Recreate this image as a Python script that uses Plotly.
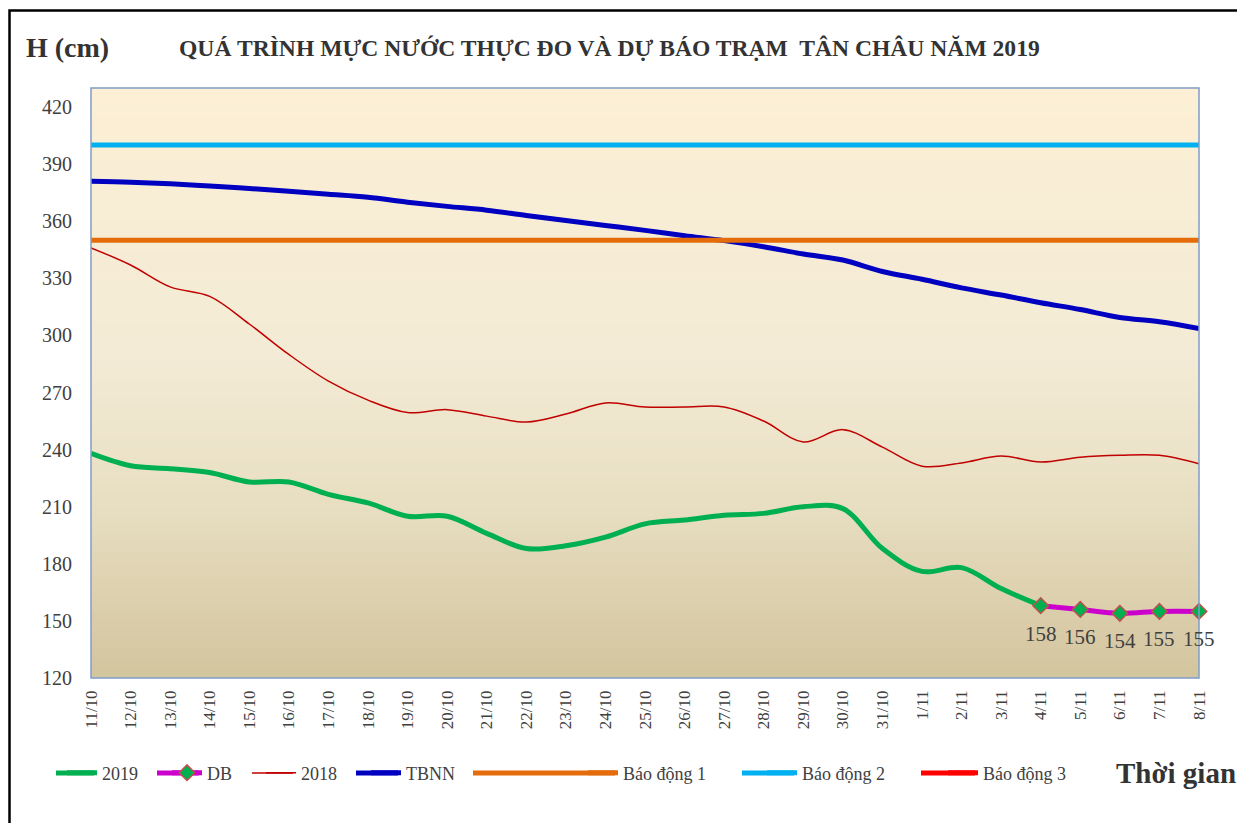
import plotly.graph_objects as go

# ---------------- data ----------------
categories = [f"{d}/10" for d in range(11, 32)] + [f"{d}/11" for d in range(1, 9)]

h2019 = [238, 231.5, 230, 228, 223, 223, 216.5, 212, 205, 205, 196, 188, 189.5,
         194, 201, 203, 205.5, 206.5, 210, 209, 188, 176, 178, 167, 158]
db_categories = ["4/11", "5/11", "6/11", "7/11", "8/11"]
db_values = [158, 156, 154, 155, 155]
h2018 = [346, 337, 325.5, 320.5, 306, 290, 276, 266, 259.5, 261, 257.6, 254.5, 258.7,
         264.5, 262.4, 262.4, 262.4, 255, 244, 250.5, 241.3, 231.3, 233, 236.6, 233.5,
         236, 237, 237, 232.5]
tbnn = [381, 380.5, 379.7, 378.5, 377.2, 375.7, 374.2, 372.6, 370, 367.8, 365.8, 363,
        360.4, 357.8, 355.2, 352.4, 349.8, 346.6, 342.8, 339.6, 333.6, 329.5, 325,
        321.2, 317.2, 313.6, 309.4, 307.2, 303.6]
bao_dong_1 = 350
bao_dong_2 = 400
bao_dong_3 = 450

y_ticks = [120, 150, 180, 210, 240, 270, 300, 330, 360, 390, 420]

# ---------------- layout helpers (page pixel -> paper) ----------------
FONT = "Liberation Serif, Times New Roman, serif"
TXT = "#404040"
OFF = 8                      # body margin of the page
W, H = 1245 - OFF, 823 - OFF
PL, PR, PT, PB = 91, 1199, 88, 678   # plot area in page pixels
L, R, T, B = PL - OFF, W - (PR - OFF), PT - OFF, H - (PB - OFF)
pw, ph = W - L - R, H - T - B


def px_x(px):
    return (px - OFF - L) / pw


def px_y(py):
    return (H - B - (py - OFF)) / ph


fig = go.Figure()

traces = [
    dict(x=categories[:len(h2019)], y=h2019, name="2019", mode="lines",
         line=dict(color="#00B050", width=5, shape="spline", smoothing=1)),
    dict(x=db_categories, y=db_values, name="DB", mode="lines+markers",
         line=dict(color="#CC00CC", width=5, shape="spline", smoothing=1),
         marker=dict(symbol="diamond", size=12, color="#00B050",
                     line=dict(color="#C0504D", width=1.5)),
         cliponaxis=False),
    dict(x=categories, y=h2018, name="2018", mode="lines",
         line=dict(color="#C00000", width=1.5, shape="spline", smoothing=1)),
    dict(x=categories, y=tbnn, name="TBNN", mode="lines",
         line=dict(color="#0000C0", width=5, shape="spline", smoothing=1)),
    dict(x=categories, y=[bao_dong_1] * len(categories), name="Báo động 1", mode="lines",
         line=dict(color="#E46C0A", width=5)),
    dict(x=categories, y=[bao_dong_2] * len(categories), name="Báo động 2", mode="lines",
         line=dict(color="#00B0F0", width=5)),
    dict(x=categories, y=[bao_dong_3] * len(categories), name="Báo động 3", mode="lines",
         line=dict(color="#FF0000", width=5)),
]
# legend key start / text start positions in page pixels
legend_key_x = [56, 157, 252, 356, 473, 742, 921]
legend_text_x = [102, 207, 301, 406, 623, 802, 983]
LEG_Y = 773

shapes = []
legend_layouts = {}
for i, (tr, kx, tx) in enumerate(zip(traces, legend_key_x, legend_text_x)):
    key = "legend" if i == 0 else f"legend{i + 1}"
    fig.add_trace(go.Scatter(**tr, legend=key))
    legend_layouts[key] = dict(orientation="h", x=px_x(tx - 40), y=px_y(LEG_Y),
                               xanchor="left", yanchor="middle",
                               font=dict(family=FONT, size=18, color=TXT),
                               bgcolor="rgba(0,0,0,0)", borderwidth=0)
    # lengthen the legend key to match the original key length
    shapes.append(dict(type="line", xref="paper", yref="paper",
                       x0=px_x(kx), x1=px_x(tx - 8), y0=px_y(LEG_Y), y1=px_y(LEG_Y),
                       line=dict(color=tr["line"]["color"], width=tr["line"]["width"])))

# data labels of the forecast
annotations = []
for c, v in zip(db_categories, db_values):
    annotations.append(dict(x=c, y=v, xref="x", yref="y", text=str(v), showarrow=False,
                            yshift=-28, font=dict(family=FONT, size=21, color=TXT)))

annotations += [
    dict(x=px_x(24), y=px_y(48), xref="paper", yref="paper", xanchor="left", yanchor="middle",
         text="<b>H (cm)</b>", showarrow=False, font=dict(family=FONT, size=28, color="#333333")),
    dict(x=px_x(177), y=px_y(48), xref="paper", yref="paper", xanchor="left", yanchor="middle",
         text="<b>QUÁ TRÌNH MỰC NƯỚC THỰC ĐO VÀ DỰ BÁO TRẠM  TÂN CHÂU NĂM 2019</b>",
         showarrow=False, font=dict(family=FONT, size=23.6, color="#333333")),
    dict(x=px_x(1114), y=px_y(LEG_Y), xref="paper", yref="paper", xanchor="left", yanchor="middle",
         text="<b>Thời gian</b>", showarrow=False, font=dict(family=FONT, size=29, color="#333333")),
]

# gradient background (style only)
stops = [(0.0, (252, 239, 213)), (0.45, (243, 235, 213)), (0.7, (232, 223, 195)), (1.0, (211, 196, 157))]
N = 80
for i in range(N):
    t = (i + 0.5) / N  # 0 top -> 1 bottom
    for (a, ca), (b, cb) in zip(stops[:-1], stops[1:]):
        if a <= t <= b:
            f = (t - a) / (b - a)
            c = tuple(int(round(ca[k] + (cb[k] - ca[k]) * f)) for k in range(3))
            break
    shapes.append(dict(type="rect", xref="paper", yref="paper", x0=0, x1=1,
                       y0=1 - (i + 1) / N, y1=1 - i / N + 0.001, layer="below",
                       fillcolor=f"rgb{c}", line=dict(width=0)))
# plot area border
shapes.append(dict(type="rect", xref="paper", yref="paper", x0=0, x1=1, y0=0, y1=1,
                   line=dict(color="#7F9DC9", width=1.5), layer="above"))
# outer frame
shapes.append(dict(type="rect", xref="paper", yref="paper", x0=px_x(9.5), x1=px_x(1270),
                   y0=px_y(850), y1=px_y(10.5), line=dict(color="black", width=2.5)))

fig.update_layout(
    width=W, height=H,
    margin=dict(l=L, r=R, t=T, b=B),
    paper_bgcolor="white",
    plot_bgcolor="rgb(252,239,213)",
    font=dict(family=FONT, color=TXT),
    showlegend=True,
    xaxis=dict(type="category", categoryorder="array", categoryarray=categories,
               range=[0, len(categories) - 1], tickangle=-90, showgrid=False,
               zeroline=False, showline=False, ticks="", ticklabelstandoff=8,
               tickfont=dict(family=FONT, size=17, color=TXT)),
    yaxis=dict(range=[120, 430], tickvals=y_ticks, showgrid=False, zeroline=False,
               showline=False, ticks="", ticklabelstandoff=18,
               tickfont=dict(family=FONT, size=20, color=TXT)),
    annotations=annotations,
    shapes=shapes,
    **legend_layouts,
)

fig.write_html("out.html")
